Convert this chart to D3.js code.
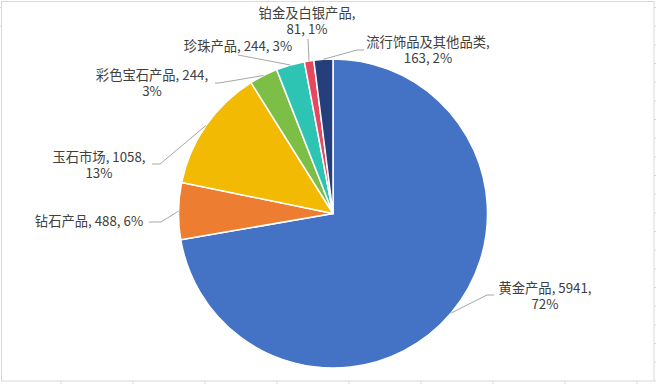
<!DOCTYPE html>
<html>
<head>
<meta charset="utf-8">
<script src="https://cdn.jsdelivr.net/npm/d3@7"></script>
<style>
  body { margin: 0; background: #fff; }
  svg { display: block; }
  text { font-family: "Microsoft YaHei", "Noto Sans CJK SC", sans-serif; font-size: 13.3px; fill: #404040; }
</style>
</head>
<body>
<svg id="chart"></svg>
<script>
// data
const categories = ['黄金产品', '钻石产品', '玉石市场', '彩色宝石产品', '珍珠产品', '铂金及白银产品', '流行饰品及其他品类'];
const values = [5941, 488, 1058, 244, 244, 81, 163];
const percents = ['72%', '6%', '13%', '3%', '3%', '1%', '2%'];
const colors = ['#4472C4', '#ED7D31', '#F2BA02', '#7DBE46', '#2EC4B4', '#E8475F', '#243F7B'];

// label layout (text lines, centre x, first line y, leader start + elbow)
const labelLayout = [
  {lines: ['黄金产品, 5941,', '72%'], x: 545, y: 288, lead: [[494, 295], [487, 295]]},
  {lines: ['钻石产品, 488, 6%'], x: 89, y: 221, lead: [[149, 222], [161, 222]]},
  {lines: ['玉石市场, 1058,', '13%'], x: 99, y: 157, lead: [[152, 164], [160, 164]]},
  {lines: ['彩色宝石产品, 244,', '3%'], x: 152, y: 75, lead: [[215, 83], [219, 83]]},
  {lines: ['珍珠产品, 244, 3%'], x: 238, y: 46, lead: [[238, 55], [238, 55]]},
  {lines: ['铂金及白银产品,', '81, 1%'], x: 307, y: 13, lead: [[308, 39], [308, 39]]},
  {lines: ['流行饰品及其他品类,', '163, 2%'], x: 428, y: 42, lead: [[364, 50], [357, 50]]}
];

const w = 656, h = 384;
const cx = 333, cy = 213.5, radius = 154.5;
const lineH = 16;

const svg = d3.select('#chart')
    .attr('width', w)
    .attr('height', h);

svg.append('rect')
    .attr('width', w)
    .attr('height', h)
    .attr('fill', 'white');

// spreadsheet grid remnants outside the frame
const colTicks = d3.range(61, 656, 72);
const rowTicks = d3.range(7.5, 384, 18.67);
svg.append('g')
    .selectAll('line')
    .data(colTicks)
    .enter()
    .append('line')
    .attr('x1', d => d).attr('x2', d => d)
    .attr('y1', 381).attr('y2', 384)
    .attr('stroke', '#d9d9d9');
svg.append('g')
    .selectAll('line')
    .data(rowTicks)
    .enter()
    .append('line')
    .attr('x1', 654).attr('x2', 656)
    .attr('y1', d => d).attr('y2', d => d)
    .attr('stroke', '#d9d9d9');
svg.append('g')
    .selectAll('line')
    .data(rowTicks.slice(0, 2))
    .enter()
    .append('line')
    .attr('x1', 0).attr('x2', 1)
    .attr('y1', d => d).attr('y2', d => d)
    .attr('stroke', '#d9d9d9');

// chart frame
svg.append('rect')
    .attr('x', 1.5)
    .attr('y', 1.5)
    .attr('width', 652.5)
    .attr('height', 379.5)
    .attr('fill', 'none')
    .attr('stroke', '#d9d9d9');

// pie
const pie = d3.pie().sort(null).value(d => d)(values);
const arc = d3.arc().innerRadius(0).outerRadius(radius);

const pieG = svg.append('g')
    .attr('transform', 'translate(' + cx + ',' + cy + ')');

pieG.selectAll('path')
    .data(pie)
    .enter()
    .append('path')
    .attr('d', arc)
    .attr('fill', (d, i) => colors[i])
    .attr('stroke', 'white')
    .attr('stroke-width', 1.5)
    .attr('stroke-linejoin', 'round');

// leader lines
const leaderEnd = d => {
    const a = (d.startAngle + d.endAngle) / 2;
    return [cx + radius * Math.sin(a), cy - radius * Math.cos(a)];
};

svg.append('g')
    .selectAll('polyline')
    .data(pie)
    .enter()
    .append('polyline')
    .attr('points', (d, i) => labelLayout[i].lead.concat([leaderEnd(d)]).map(p => p.join(',')).join(' '))
    .attr('fill', 'none')
    .attr('stroke', '#a6a6a6')
    .attr('stroke-width', 1);

// labels
const labels = svg.append('g')
    .selectAll('text')
    .data(labelLayout)
    .enter()
    .append('text')
    .attr('text-anchor', 'middle')
    .attr('x', d => d.x)
    .attr('y', d => d.y);

labels.selectAll('tspan')
    .data(d => d.lines.map(l => ({t: l, x: d.x})))
    .enter()
    .append('tspan')
    .attr('x', d => d.x)
    .attr('dy', (d, i) => i === 0 ? '0.35em' : lineH)
    .text(d => d.t);
</script>
</body>
</html>
